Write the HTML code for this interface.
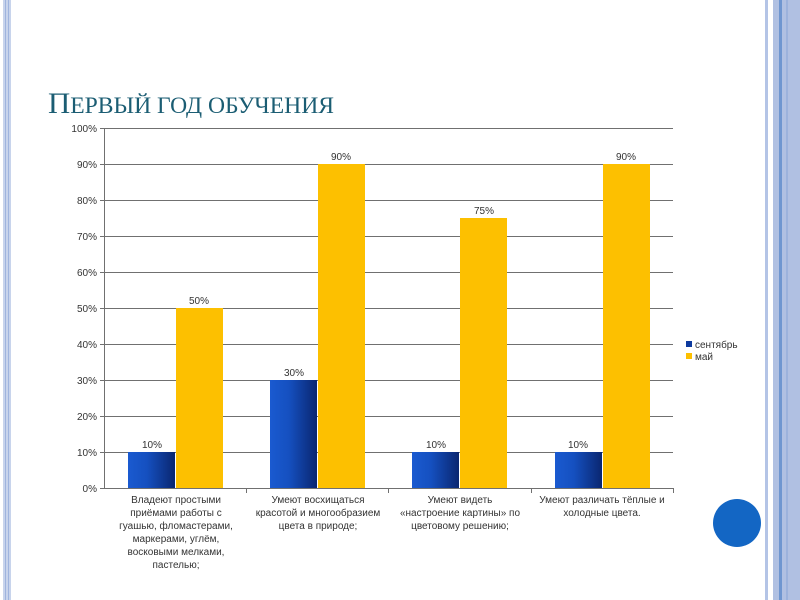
<!DOCTYPE html>
<html><head><meta charset="utf-8"><style>
body{margin:0;width:800px;height:600px;background:#fff;position:relative;overflow:hidden;font-family:"Liberation Sans",sans-serif}
</style></head><body>
<svg width="800" height="600" style="position:absolute;left:0;top:0">
<defs>
<linearGradient id="b" x1="0" x2="1" y1="0" y2="0">
<stop offset="0" stop-color="#1a5ad0"/><stop offset="0.4" stop-color="#1550c0"/><stop offset="1" stop-color="#0a2670"/>
</linearGradient>
</defs>
<rect x="3" y="0" width="8" height="600" fill="#c8d4ec"/>
<rect x="5" y="0" width="1" height="600" fill="#9fb4de"/>
<rect x="8" y="0" width="1" height="600" fill="#9fb4de"/>
<rect x="765" y="0" width="3" height="600" fill="#b4c4e6"/>
<rect x="773" y="0" width="27" height="600" fill="#b0c0e2"/>
<rect x="779" y="0" width="3" height="600" fill="#6f96d0"/>
<rect x="786" y="0" width="2" height="600" fill="#9cb2dc"/>
<ellipse cx="737" cy="523" rx="24" ry="24" fill="#1366c4"/>
<text x="48" y="113" font-family="Liberation Serif,serif" font-size="30" fill="#1b5d73" textLength="286" lengthAdjust="spacingAndGlyphs"><tspan>П</tspan><tspan font-size="23">ЕРВЫЙ ГОД ОБУЧЕНИЯ</tspan></text>
<g stroke="#707070" stroke-width="1">
<line x1="100" y1="128.5" x2="673" y2="128.5"/><line x1="100" y1="164.5" x2="673" y2="164.5"/>
<line x1="100" y1="200.5" x2="673" y2="200.5"/><line x1="100" y1="236.5" x2="673" y2="236.5"/>
<line x1="100" y1="272.5" x2="673" y2="272.5"/><line x1="100" y1="308.5" x2="673" y2="308.5"/>
<line x1="100" y1="344.5" x2="673" y2="344.5"/><line x1="100" y1="380.5" x2="673" y2="380.5"/>
<line x1="100" y1="416.5" x2="673" y2="416.5"/><line x1="100" y1="452.5" x2="673" y2="452.5"/>
<line x1="100" y1="488.5" x2="673" y2="488.5"/>
<line x1="104.5" y1="128" x2="104.5" y2="488"/>
<line x1="246.5" y1="488" x2="246.5" y2="493"/><line x1="388.5" y1="488" x2="388.5" y2="493"/>
<line x1="531.5" y1="488" x2="531.5" y2="493"/><line x1="673.5" y1="488" x2="673.5" y2="493"/>
</g>
<g font-size="10" fill="#333" text-anchor="end">
<text x="97" y="132">100%</text><text x="97" y="168">90%</text><text x="97" y="204">80%</text>
<text x="97" y="240">70%</text><text x="97" y="276">60%</text><text x="97" y="312">50%</text>
<text x="97" y="348">40%</text><text x="97" y="384">30%</text><text x="97" y="420">20%</text>
<text x="97" y="456">10%</text><text x="97" y="492">0%</text>
</g>
<rect x="128" y="452" width="47" height="36" fill="url(#b)"/>
<rect x="176" y="308" width="47" height="180" fill="#fdc000"/>
<rect x="270" y="380" width="47" height="108" fill="url(#b)"/>
<rect x="318" y="164" width="47" height="324" fill="#fdc000"/>
<rect x="412" y="452" width="47" height="36" fill="url(#b)"/>
<rect x="460" y="218" width="47" height="270" fill="#fdc000"/>
<rect x="555" y="452" width="47" height="36" fill="url(#b)"/>
<rect x="603" y="164" width="47" height="324" fill="#fdc000"/>
<g font-size="10" fill="#333" text-anchor="middle">
<text x="152" y="448">10%</text><text x="199" y="304">50%</text>
<text x="294" y="376">30%</text><text x="341" y="160">90%</text>
<text x="436" y="448">10%</text><text x="484" y="214">75%</text>
<text x="578" y="448">10%</text><text x="626" y="160">90%</text>
</g>
<g font-size="10" fill="#333" text-anchor="middle">
<text x="176" y="503">Владеют простыми</text><text x="176" y="516">приёмами работы с</text>
<text x="176" y="529">гуашью, фломастерами,</text><text x="176" y="542">маркерами, углём,</text>
<text x="176" y="555">восковыми мелками,</text><text x="176" y="568">пастелью;</text>
<text x="318" y="503">Умеют восхищаться</text><text x="318" y="516">красотой и многообразием</text>
<text x="318" y="529">цвета в природе;</text>
<text x="460" y="503">Умеют видеть</text><text x="460" y="516">«настроение картины» по</text>
<text x="460" y="529">цветовому решению;</text>
<text x="602" y="503">Умеют различать тёплые и</text><text x="602" y="516">холодные цвета.</text>
</g>
<rect x="686" y="341" width="6" height="6" fill="#0d3a9e"/>
<rect x="686" y="353" width="6" height="6" fill="#fdc000"/>
<g font-size="10" fill="#333"><text x="695" y="348">сентябрь</text><text x="695" y="360">май</text></g>
</svg>
</body></html>
